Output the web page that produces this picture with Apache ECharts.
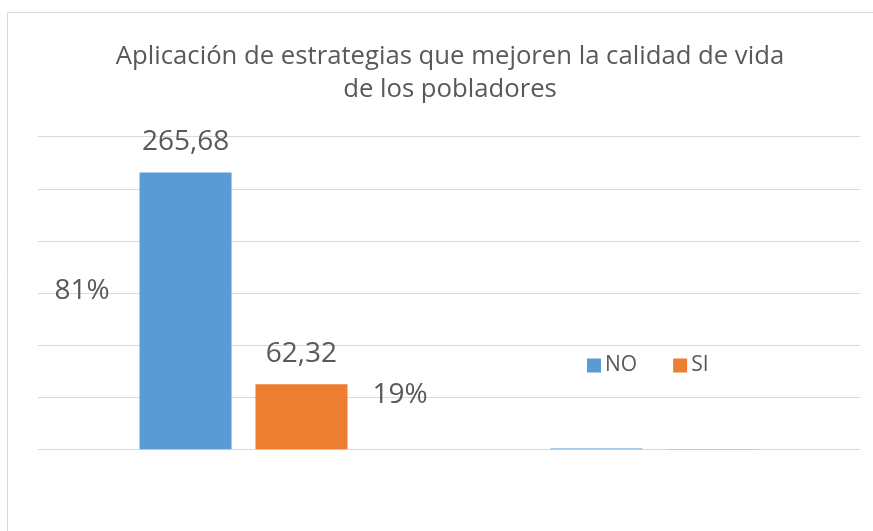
<!DOCTYPE html>
<html><head><meta charset="utf-8">
<script src="https://cdn.jsdelivr.net/npm/echarts@6/dist/echarts.min.js"></script>
<style>html,body{margin:0;padding:0;background:#fff}#c{width:873px;height:531px}</style>
</head><body><div id="c"></div>
<script>
const titleText = 'Aplicación de estrategias que mejoren la calidad de vida\nde los pobladores';
const categories = ['Cantidad', 'Porcentaje'];
const seriesNames = ['NO', 'SI'];
const noValues = [265.68, 0.81];
const siValues = [62.32, 0.19];
const yTicks = [0, 50, 100, 150, 200, 250, 300];

const FONT = 'Open Sans';
const TXT = '#595959';
function fmtComma(v){ return v.toFixed(2).replace('.', ','); }
function mkData(vals){
  return vals.map((v,i)=> i===0
    ? {value:v, label:{show:true, position:'top', distance:16, formatter:p=>fmtComma(p.value)}}
    : {value:v, label:{show:true, position:'top', formatter:p=>Math.round(p.value*100)+'%'}});
}
const chart = echarts.init(document.getElementById('c'), null, {renderer:'canvas'});
chart.setOption({
  animation:false,
  backgroundColor:'#fff',
  textStyle:{fontFamily:FONT},
  graphic:[{type:'rect', shape:{x:7.5,y:12.5,width:900,height:600}, style:{fill:'none', stroke:'#D9D9D9', lineWidth:1}, silent:true}],
  title:{text:titleText, left:445, top:35, textAlign:'center',
    textStyle:{fontFamily:FONT, fontSize:25.7, fontWeight:'normal', color:TXT, lineHeight:33}},
  legend:{data:seriesNames, left:587, top:355, padding:0, itemWidth:14, itemHeight:14, itemGap:36,
    icon:'rect', textStyle:{fontFamily:FONT, fontSize:21, color:TXT, padding:[0,0,0,-1]}},
  grid:{left:38, right:13, top:136.7, bottom:81.7, containLabel:false},
  xAxis:{type:'category', data:categories, axisLine:{show:true, lineStyle:{color:'#D9D9D9', width:1}},
    axisTick:{show:false}, axisLabel:{show:false}},
  yAxis:{type:'value', min:yTicks[0], max:yTicks[yTicks.length-1], interval:50,
    axisLine:{show:false}, axisTick:{show:false}, axisLabel:{show:false},
    splitLine:{lineStyle:{color:'#D9D9D9', width:1}}},
  series:[
    {name:'NO', type:'bar', data:mkData(noValues), itemStyle:{color:'#5B9BD5'}, barGap:'26%', barCategoryGap:'49.4%',
     label:{fontFamily:FONT, fontSize:28, color:TXT},
     labelLayout:p=> p.dataIndex===1 ? {x:82, y:291, align:'center', verticalAlign:'middle'} : {}},
    {name:'SI', type:'bar', data:mkData(siValues), itemStyle:{color:'#ED7D31'}, barGap:'26%', barCategoryGap:'49.4%',
     label:{fontFamily:FONT, fontSize:28, color:TXT},
     labelLayout:p=> p.dataIndex===1 ? {x:400, y:395, align:'center', verticalAlign:'middle'} : {}}
  ]
});
</script></body></html>
